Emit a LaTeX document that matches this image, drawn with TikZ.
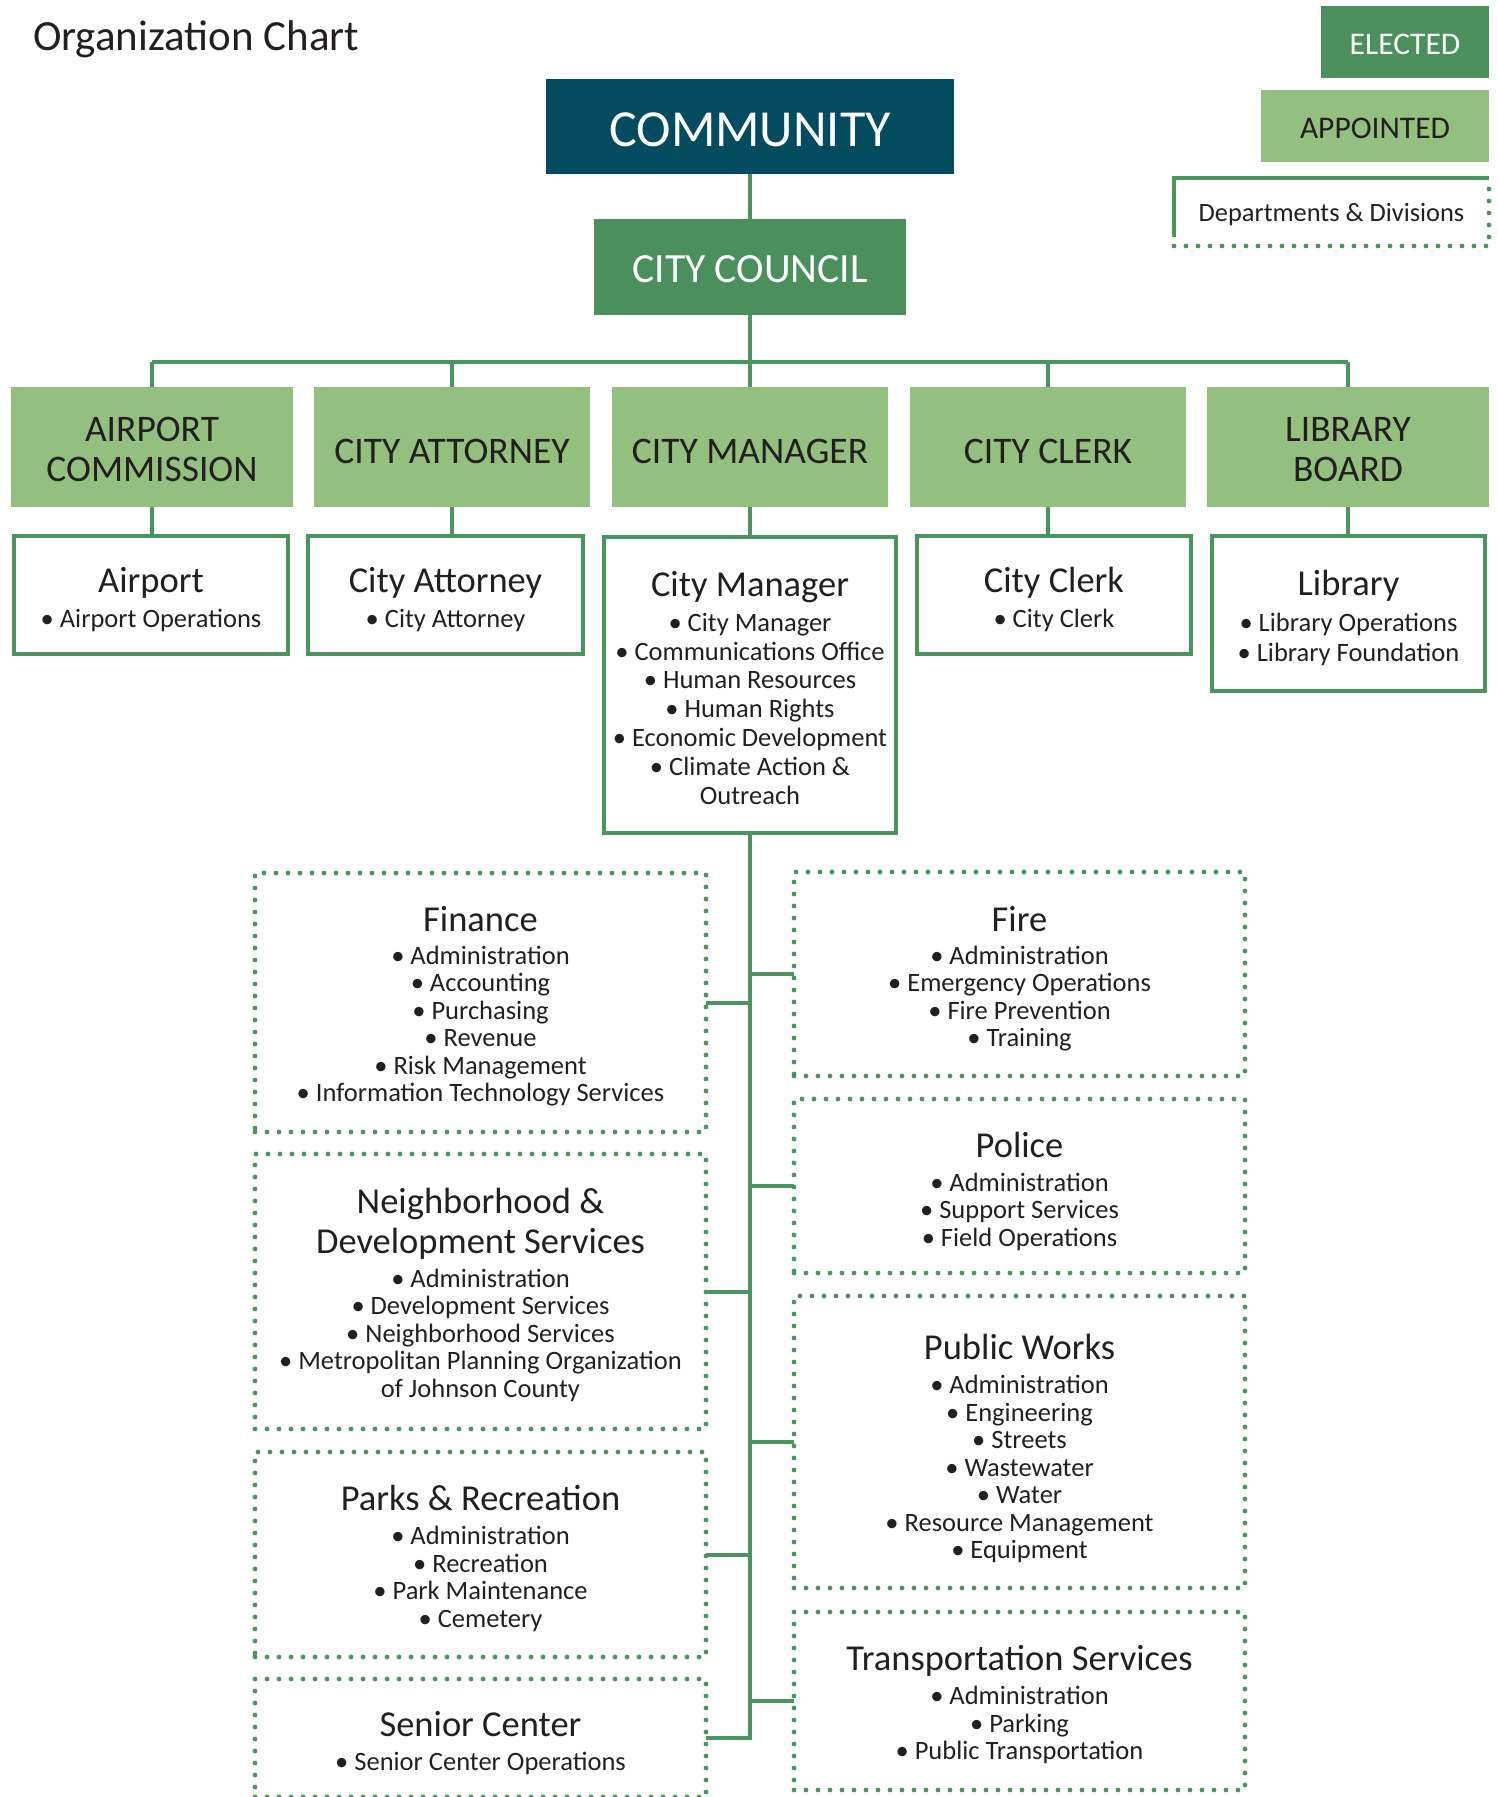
\documentclass[tikz,border=0pt]{standalone}
\usepackage{fontspec}
\setmainfont{Carlito}

\definecolor{communityBlue}{RGB}{3,75,94}
\definecolor{electGreen}{RGB}{74,143,92}
\definecolor{apptGreen}{RGB}{147,192,126}
\definecolor{lineGreen}{RGB}{74,148,96}
\definecolor{ink}{RGB}{35,31,32}

% strut a little taller than the capitals, to sit text lower in its box
\newcommand{\capstrut}[1]{\rule{0pt}{\dimexpr\fontcharht\font`H+#1\relax}}
\newcommand{\deptname}[2][10pt]{{\fontsize{36.5}{38}\selectfont\capstrut{#1}#2}}

\tikzstyle{orgbox}=[inner sep=0pt, outer sep=0pt, align=center, text=ink]
\tikzstyle{community}=[orgbox, fill=communityBlue, text=white, font=\fontsize{52}{56}\selectfont]
\tikzstyle{elected}=[orgbox, fill=electGreen, text=white]
\tikzstyle{appointed}=[orgbox, fill=apptGreen, minimum width=276pt, minimum height=120pt, font=\fontsize{37.5}{40}\selectfont]
\tikzstyle{office}=[orgbox, draw=lineGreen, line width=4pt, fill=white, minimum height=118pt, font=\fontsize{26.5}{28.8}\selectfont]
\tikzstyle{division}=[orgbox, draw=lineGreen, line width=4.8pt, line cap=round, dash pattern=on 0pt off 12pt, minimum width=451pt, font=\fontsize{26.5}{27.5}\selectfont]
\tikzstyle{link}=[draw=lineGreen, line width=4pt]
\tikzstyle{dotline}=[draw=lineGreen, line width=4.8pt, line cap=round, dash pattern=on 0pt off 12pt]

\begin{document}
\begin{tikzpicture}[x=1pt, y=-1pt]
      \useasboundingbox (0,0) rectangle (1498,1797);
      \clip (0,0) rectangle (1498,1797);

      \node[orgbox, anchor=base west, font=\fontsize{43}{46}\selectfont] (chartTitle) at (33,50) {Organization Chart};

      % key
      \node[elected, minimum width=168pt, minimum height=72pt, font=\fontsize{31.5}{34}\selectfont] (electedKey) at (1405,42) {\capstrut{4.6pt}ELECTED};
      \node[appointed, minimum width=228pt, minimum height=72pt, font=\fontsize{31.5}{34}\selectfont] (appointedKey) at (1375,126) {\capstrut{4.6pt}APPOINTED};
      \node[orgbox, minimum width=315pt, minimum height=68pt, font=\fontsize{26.4}{28}\selectfont] (deptKey) at (1331.5,212) {\capstrut{6.8pt}Departments \& Divisions};
      \draw[link] ([yshift=9pt]deptKey.south west) |- (deptKey.north east);
      \draw[dotline] (deptKey.south west) -| ([yshift=-6pt]deptKey.north east);

      % elected and appointed
      \node[community, minimum width=408pt, minimum height=95pt] (community) at (750,126.5) {\capstrut{6.8pt}COMMUNITY};
      \node[elected, minimum width=312pt, minimum height=96pt, font=\fontsize{41.5}{44}\selectfont] (council) at (750,267) {\capstrut{4.6pt}CITY COUNCIL};
      \coordinate (busMid) at (750,362);

      \node[appointed, minimum width=282pt] (airportBoard) at (152,447) {\capstrut{5.6pt}AIRPORT\\COMMISSION};
      \node[appointed] (attorneyBoard) at (452,447) {\capstrut{9.2pt}CITY ATTORNEY};
      \node[appointed] (managerBoard) at (750,447) {\capstrut{9.2pt}CITY MANAGER};
      \node[appointed] (clerkBoard) at (1048,447) {\capstrut{9.2pt}CITY CLERK};
      \node[appointed, minimum width=282pt] (libraryBoard) at (1348,447) {\capstrut{5.6pt}LIBRARY\\BOARD};

      \node[office, minimum width=274pt] (airport) at (151,595)
        {\deptname[11.5pt]{Airport}\\[6.5pt] • Airport Operations};
      \node[office, minimum width=275pt] (attorney) at (445.5,595)
        {\deptname[11.5pt]{City Attorney}\\[6.5pt] • City Attorney};
      \node[office, minimum width=292pt, minimum height=296pt] (manager) at (750,685)
        {\deptname[7pt]{City Manager}\\[6.5pt]
         • City Manager\\ • Communications Office\\ • Human Resources\\
         • Human Rights\\ • Economic Development\\ • Climate Action \&\\ Outreach};
      \node[office, minimum width=274pt] (clerk) at (1054,595)
        {\deptname[11.5pt]{City Clerk}\\[6.5pt] • City Clerk};
      \node[office, minimum width=273pt, minimum height=155pt] (library) at (1348.5,613.5)
        {\deptname[11.5pt]{Library}\\[7pt] • Library Operations\\[1.5pt] • Library Foundation};

      % departments under the city manager
      \node[division, minimum height=259pt] (finance) at (480.5,1002.5)
        {\deptname{Finance}\\[5pt] • Administration\\ • Accounting\\ • Purchasing\\
         • Revenue\\ • Risk Management\\ • Information Technology Services};
      \node[division, minimum height=275pt] (neighborhood) at (480.5,1291.5)
        {\deptname[8pt]{Neighborhood \&}\\[7.5pt] \deptname[0pt]{Development Services}\\[6.5pt]
         • Administration\\ • Development Services\\ • Neighborhood Services\\
         • Metropolitan Planning Organization\\ of Johnson County};
      \node[division, minimum height=205pt] (parks) at (480.5,1554.5)
        {\deptname{Parks \& Recreation}\\[6.5pt] • Administration\\ • Recreation\\
         • Park Maintenance\\ • Cemetery};
      \node[division, minimum height=118pt] (senior) at (480.5,1738)
        {\deptname[12pt]{Senior Center}\\[6.5pt] • Senior Center Operations};

      \node[division, minimum height=204pt] (fire) at (1019.5,974)
        {\deptname[12pt]{Fire}\\[5pt] • Administration\\ • Emergency Operations\\
         • Fire Prevention\\ • Training};
      \node[division, minimum height=174pt] (police) at (1019.5,1186)
        {\deptname[12.5pt]{Police}\\[6.5pt] • Administration\\ • Support Services\\ • Field Operations};
      \node[division, minimum height=292pt] (publicWorks) at (1019.5,1442)
        {\deptname[15pt]{Public Works}\\[6.5pt] • Administration\\ • Engineering\\ • Streets\\
         • Wastewater\\ • Water\\ • Resource Management\\ • Equipment};
      \node[division, minimum height=178pt] (transportation) at (1019.5,1701)
        {\deptname[9pt]{Transportation Services}\\[6.5pt] • Administration\\ • Parking\\
         • Public Transportation};

      \draw[link] (community) -- (council);
      \draw[link] (council.south) -- (busMid);
      \draw[link] (airportBoard.north |- busMid) -- (libraryBoard.north |- busMid);
      \foreach \n in {airportBoard, attorneyBoard, managerBoard, clerkBoard, libraryBoard}{
        \draw[link] (\n.north) -- (\n.north |- busMid);
      }
      \foreach \a/\o in {airportBoard/airport, attorneyBoard/attorney, managerBoard/manager,
                         clerkBoard/clerk, libraryBoard/library}{
        \draw[link] (\a.south) -- (\a.south |- \o.north);
      }

      \draw[link] (manager.south) |- (senior.east);
      \foreach \d in {finance, neighborhood, parks}{
        \draw[link] (\d.east) -- (\d.east -| manager.south);
      }
      \foreach \d in {fire, police, publicWorks, transportation}{
        \draw[link] (\d.west) -- (\d.west -| manager.south);
      }
\end{tikzpicture}
\end{document}
